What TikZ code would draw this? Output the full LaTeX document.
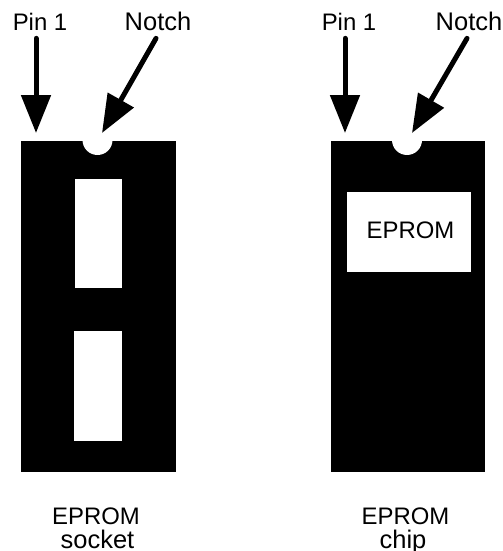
\documentclass[tikz,border=0pt]{standalone}
\usepackage{fontspec}
\setmainfont{Liberation Sans}
\usetikzlibrary{arrows.meta}
\tikzset{
    body/.style={fill=black, inner sep=0pt, minimum width=3.1cm, minimum height=6.62cm},
    hole/.style={fill=white, inner sep=0pt},
    notch/.style={circle, fill=white, inner sep=0pt, minimum size=0.6cm},
    lbl/.style={inner sep=0pt, anchor=base, font=\fontsize{13.6}{16}\selectfont, text depth=0.14cm},
    lblwide/.style={lbl, font=\fontsize{14.5}{16}\selectfont},
    caption/.style={inner sep=0pt, anchor=base, font=\fontsize{13.6}{16}\selectfont},
    pointer/.style={-{Triangle[length=0.76cm, width=0.58cm]}, line width=0.1cm, line cap=round}
}
\begin{document}
\begin{tikzpicture}[x=0.02cm, y=-0.02cm]
    \useasboundingbox (0,0) rectangle (503,551);
    % socket
    \node [body] (socket) at (98.5,306.5) {};
    \node [notch] (notchs) at (97.5,140) {};
    \node [hole, minimum width=0.96cm, minimum height=2.18cm] (holeup) at (98.5,233.5) {};
    \node [hole, minimum width=0.96cm, minimum height=2.2cm] (holedown) at (98,386) {};
    % chip
    \node [body] (chip) at (408,306.5) {};
    \node [notch] (notchc) at (407,140) {};
    \node [hole, minimum width=2.48cm, minimum height=1.6cm] (window) at (409,232) {};
    \node [caption] (wintext) at (410.5,238) {EPROM};
    % labels
    \node [lbl] (pins) at (40,31) {Pin 1};
    \node [lblwide] (notchlbls) at (158,31) {Notch};
    \node [lbl] (pinc) at (349,31) {Pin 1};
    \node [lblwide] (notchlblc) at (469,31) {Notch};
    \node [caption] (caps) at (96,524) {EPROM};
    \node [caption, font=\fontsize{14.5}{16}\selectfont] (capsb) at (97.5,548) {socket};
    \node [caption] (capc) at (405.5,524) {EPROM};
    \node [caption, font=\fontsize{14.5}{16}\selectfont] (capcb) at (403,548) {chip};
    % arrows
    \coordinate (tipa) at (36,133);
    \coordinate (tipb) at (102,133);
    \coordinate (tipc) at (345,133);
    \coordinate (tipd) at (412,133);
    \draw [pointer] (pins.south -| tipa) -- (tipa);
    \draw [pointer] ([xshift=-0.04cm]notchlbls.south) -- (tipb);
    \draw [pointer] (pinc.south -| tipc) -- (tipc);
    \draw [pointer] ([xshift=-0.04cm]notchlblc.south) -- (tipd);
\end{tikzpicture}
\end{document}
